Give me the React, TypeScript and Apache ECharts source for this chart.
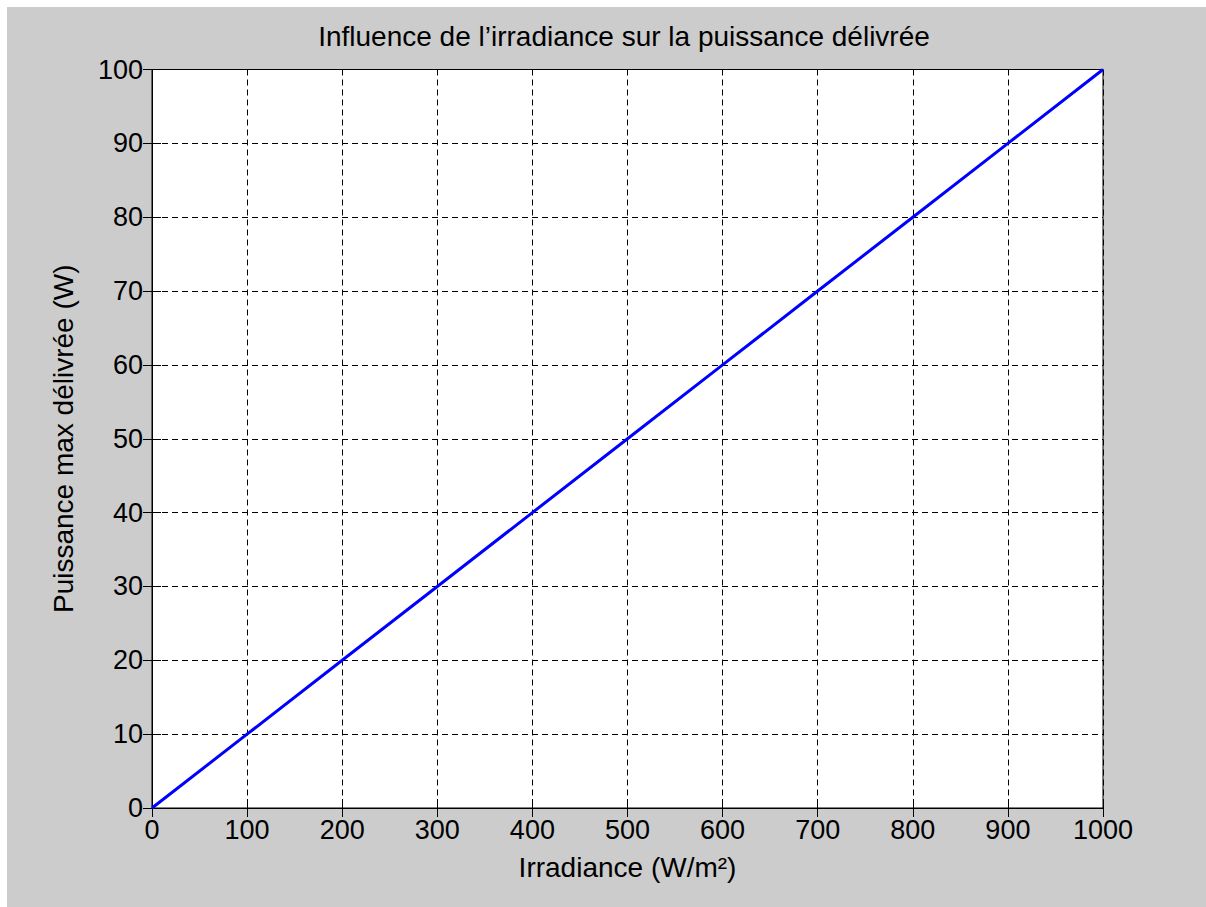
import React, { useEffect, useRef } from "react";
import * as echarts from "echarts";

const irradiance = [0, 100, 200, 300, 400, 500, 600, 700, 800, 900, 1000];
const puissance = [0, 10, 20, 30, 40, 50, 60, 70, 80, 90, 100];

const titleText = "Influence de l\u2019irradiance sur la puissance délivrée";
const xName = "Irradiance (W/m\u00b2)";
const yName = "Puissance max délivrée (W)";

const FONT = "'Liberation Sans', Arial, sans-serif";

export default function App() {
  const ref = useRef<HTMLDivElement>(null);
  useEffect(() => {
    document.body.style.overflow = "hidden";
    document.body.style.background = "#ffffff";
    if (!ref.current) return;
    const chart = echarts.init(ref.current, undefined, { renderer: "svg" });
    const tickInside = { show: true, inside: true, length: 9, lineStyle: { color: "#000", width: 1 } };
    chart.setOption({
      animation: false,
      backgroundColor: "#cccccc",
      textStyle: { fontFamily: FONT, color: "#000" },
      title: {
        text: titleText,
        left: 612,
        top: 10,
        textAlign: "center",
        textStyle: { fontFamily: FONT, fontSize: 28, fontWeight: "normal", color: "#000" },
      },
      grid: {
        left: 145,
        top: 62.5,
        width: 951,
        height: 738.5,
        show: true,
        backgroundColor: "#ffffff",
        borderColor: "#000",
        borderWidth: 1,
      },
      xAxis: [
        {
          type: "value",
          min: 0,
          max: 1000,
          interval: 100,
          name: xName,
          nameLocation: "middle",
          nameGap: 45,
          nameTextStyle: { fontFamily: FONT, fontSize: 28, color: "#000" },
          axisLine: { show: true, lineStyle: { color: "#000", width: 1 } },
          axisTick: tickInside,
          axisLabel: { fontFamily: FONT, fontSize: 27, color: "#000", margin: 8, formatter: (v: number) => String(v) },
          splitLine: { show: true, lineStyle: { color: "#000", type: [6, 4], width: 1 } },
        },
        {
          type: "value",
          position: "top",
          min: 0,
          max: 1000,
          interval: 100,
          axisLine: { show: true, lineStyle: { color: "#000", width: 1 } },
          axisTick: tickInside,
          axisLabel: { show: false },
          splitLine: { show: false },
        },
      ],
      yAxis: [
        {
          type: "value",
          min: 0,
          max: 100,
          interval: 10,
          name: yName,
          nameLocation: "middle",
          nameGap: 75,
          nameRotate: 90,
          nameTextStyle: { fontFamily: FONT, fontSize: 28, color: "#000" },
          axisLine: { show: true, lineStyle: { color: "#000", width: 1 } },
          axisTick: tickInside,
          axisLabel: { fontFamily: FONT, fontSize: 27, color: "#000", margin: 9, formatter: (v: number) => String(v) },
          splitLine: { show: true, lineStyle: { color: "#000", type: [6, 4], width: 1 } },
        },
        {
          type: "value",
          position: "right",
          min: 0,
          max: 100,
          interval: 10,
          axisLine: { show: true, lineStyle: { color: "#000", width: 1 } },
          axisTick: tickInside,
          axisLabel: { show: false },
          splitLine: { show: false },
        },
      ],
      series: [
        {
          type: "line",
          xAxisIndex: 0,
          yAxisIndex: 0,
          data: irradiance.map((x, i) => [x, puissance[i]]),
          showSymbol: false,
          symbol: "none",
          lineStyle: { color: "#0000ff", width: 3 },
          z: 5,
        },
      ],
    });
    return () => chart.dispose();
  }, []);
  return (
    <div
      ref={ref}
      style={{ position: "absolute", left: 7, top: 7, width: 1210, height: 910 }}
    />
  );
}
